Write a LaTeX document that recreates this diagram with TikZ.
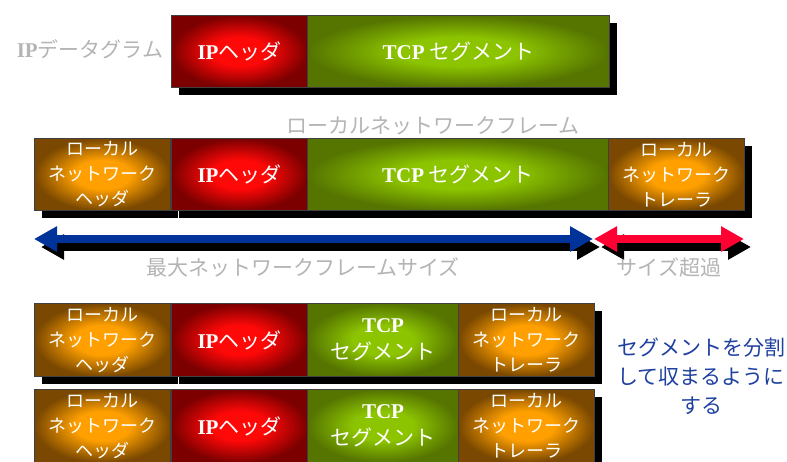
\documentclass[tikz,border=0pt]{standalone}
\usepackage{fontspec}
\setmainfont{Noto Sans CJK JP}
\newfontfamily\ser{Liberation Serif}
\usetikzlibrary{arrows.meta,shadows}
\definecolor{redC}{HTML}{FF0808}
\definecolor{redD}{HTML}{7C0000}
\definecolor{greenC}{HTML}{8CC400}
\definecolor{greenD}{HTML}{557400}
\definecolor{oraC}{HTML}{FFA000}
\definecolor{oraD}{HTML}{7A4800}
\definecolor{lblgray}{HTML}{B4B4B4}
\definecolor{lblblue}{HTML}{1E40A0}
\definecolor{arrblue}{HTML}{003399}
\definecolor{arrred}{HTML}{FF0033}
\pgfdeclareradialshading{glowred}{\pgfpoint{0bp}{0bp}}{color(0bp)=(redC); color(10bp)=(redC); color(25bp)=(redD); color(50bp)=(redD)}
\pgfdeclareradialshading{glowgreen}{\pgfpoint{0bp}{0bp}}{color(0bp)=(greenC); color(10bp)=(greenC); color(25bp)=(greenD); color(50bp)=(greenD)}
\pgfdeclareradialshading{gloworange}{\pgfpoint{0bp}{0bp}}{color(0bp)=(oraC); color(10bp)=(oraC); color(25bp)=(oraD); color(50bp)=(oraD)}
\tikzset{
  cell/.style={draw=black!75, line width=1pt, inner sep=0pt, anchor=north west,
    text=white, align=center, font=\fontsize{18}{25}\selectfont,
    drop shadow={opacity=1, fill=black, shadow xshift=7pt, shadow yshift=-7pt}},
  bigtext/.style={font=\fontsize{21}{27}\selectfont},
  redcell/.style={cell, bigtext, shading=glowred, minimum width=136pt, minimum height=#1},
  greencell/.style={cell, bigtext, shading=glowgreen, minimum height=#1},
  orangecell/.style={cell, shading=gloworange, minimum width=136pt, minimum height=#1},
  graylbl/.style={text=lblgray, font=\fontsize{21}{25}\selectfont, inner sep=0pt},
  bluelbl/.style={text=lblblue, font=\fontsize{21}{29}\selectfont, align=center, inner sep=0pt},
  bigarrow/.style={line width=8pt, {Triangle[length=23pt,width=24pt]}-{Triangle[length=23pt,width=24pt]}},
}
\newcommand{\iphdr}{{\ser\bfseries IP}ヘッダ}
\newcommand{\tcpb}{{\ser\bfseries TCP}}
\begin{document}
\begin{tikzpicture}[x=1pt,y=-1pt]
\useasboundingbox (0,0) rectangle (787,461);
\clip (0,0) rectangle (787,461);
% Row 1: IP datagram
\node[graylbl] (lbl1) at (90,49) {{\ser\bfseries IP}データグラム};
\node[redcell=72pt] (r1ip) at (171,15) {\iphdr};
\node[greencell=72pt, minimum width=302pt] (r1tcp) at (307,15) {\tcpb\ セグメント};
% Row 2: local network frame
\node[graylbl] (lbl2) at (433,126) {ローカルネットワークフレーム};
\node[orangecell=72pt] (r2h) at (34,138) {ローカル\\ネットワーク\\ヘッダ};
\node[redcell=72pt] (r2ip) at (171,138) {\iphdr};
\node[greencell=72pt, minimum width=301pt] (r2tcp) at (307,138) {\tcpb\ セグメント};
\node[orangecell=72pt] (r2t) at (608,138) {ローカル\\ネットワーク\\トレーラ};
% Arrows
\coordinate (a1) at (34,239);
\coordinate (a2) at (593,239);
\coordinate (b1) at (594,239);
\coordinate (b2) at (744,239);
\draw[bigarrow, black, transform canvas={shift={(7pt,-8pt)}}] (a1) -- (a2);
\draw[bigarrow, black, transform canvas={shift={(7pt,-8pt)}}] (b1) -- (b2);
\draw[bigarrow, arrblue] (a1) -- (a2);
\draw[bigarrow, arrred] (b1) -- (b2);
\node[graylbl] (lbl3) at (303,267) {最大ネットワークフレームサイズ};
\node[graylbl] (lbl4) at (669,267) {サイズ超過};
% Row 3
\node[orangecell=73pt] (r3h) at (34,303) {ローカル\\ネットワーク\\ヘッダ};
\node[redcell=73pt] (r3ip) at (171,303) {\iphdr};
\node[greencell=73pt, minimum width=151pt] (r3tcp) at (307,303) {\tcpb\\セグメント};
\node[orangecell=73pt] (r3t) at (458,303) {ローカル\\ネットワーク\\トレーラ};
% Row 4
\node[orangecell=73pt] (r4h) at (34,389) {ローカル\\ネットワーク\\ヘッダ};
\node[redcell=73pt] (r4ip) at (171,389) {\iphdr};
\node[greencell=73pt, minimum width=151pt] (r4tcp) at (307,389) {\tcpb\\セグメント};
\node[orangecell=73pt] (r4t) at (458,389) {ローカル\\ネットワーク\\トレーラ};
% Blue note
\node[bluelbl] (note) at (701,376) {セグメントを分割\\して収まるように\\する};
\end{tikzpicture}
\end{document}
